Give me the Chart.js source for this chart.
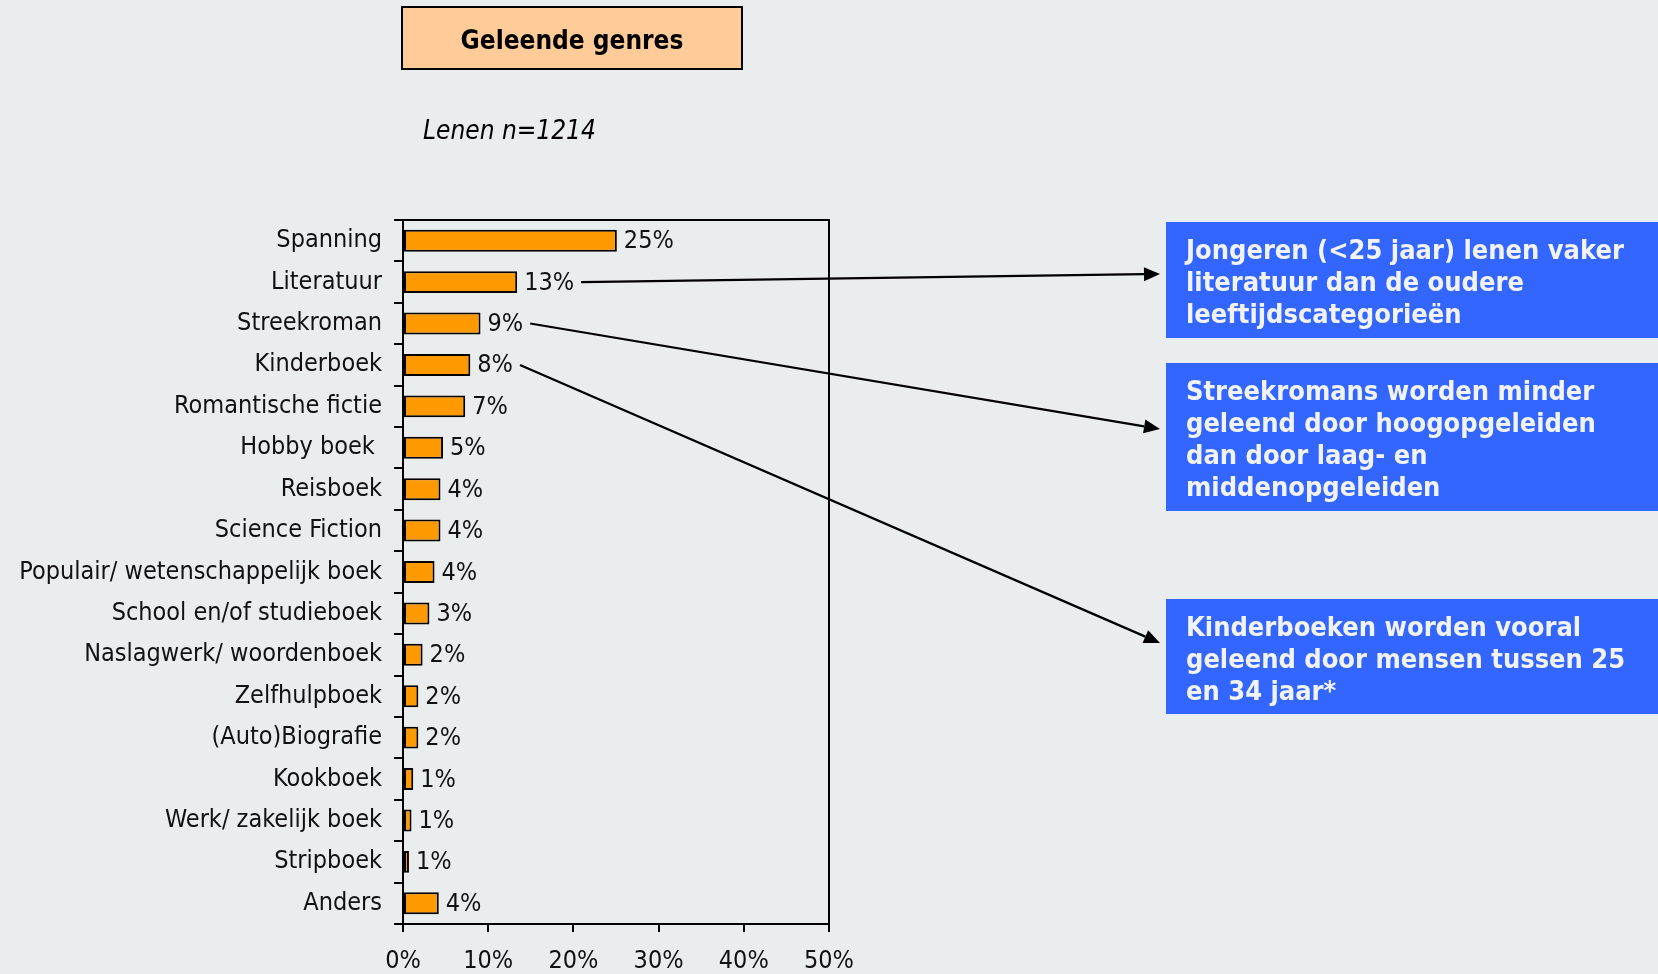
<!DOCTYPE html>
<html>
<head>
<meta charset="utf-8">
<script src="https://cdn.jsdelivr.net/npm/chart.js@4"></script>
<style>
body { margin:0; background:#E9EDEE; }
#wrap { width:1658px; height:974px; }
</style>
</head>
<body>
<div id="wrap"><canvas id="genres" width="1658" height="974"></canvas></div>
<script>
var genre_list = ['Spanning','Literatuur','Streekroman','Kinderboek','Romantische fictie','Hobby boek ','Reisboek','Science Fiction','Populair/ wetenschappelijk boek','School en/of studieboek','Naslagwerk/ woordenboek','Zelfhulpboek','(Auto)Biografie','Kookboek','Werk/ zakelijk boek','Stripboek','Anders'];
var share_list = [25.1, 13.4, 9.1, 7.9, 7.3, 4.7, 4.4, 4.4, 3.7, 3.1, 2.3, 1.8, 1.8, 1.2, 1.0, 0.7, 4.2];
var share_labels = ['25%','13%','9%','8%','7%','5%','4%','4%','4%','3%','2%','2%','2%','1%','1%','1%','4%'];
var x_ticks = [0, 10, 20, 30, 40, 50];

var title_text = 'Geleende genres';
var subtitle_text = 'Lenen n=1214';
var notes = [
	{index:1, top:222, height:116, tipY:274, lines:['Jongeren (<25 jaar) lenen vaker','literatuur dan de oudere','leeftijdscategorieën']},
	{index:2, top:363, height:148, tipY:429, lines:['Streekromans worden minder','geleend door hoogopgeleiden','dan door laag- en','middenopgeleiden']},
	{index:3, top:599, height:115, tipY:643, lines:['Kinderboeken worden vooral','geleend door mensen tussen 25','en 34 jaar*']}
];

var FONT = 'DejaVu Sans Condensed';

var extras = {
	id:'extras',
	beforeDraw:function(chart){
		var ctx = chart.ctx;
		ctx.save();
		ctx.fillStyle = '#E9EDEE';
		ctx.fillRect(0, 0, chart.width, chart.height);
		ctx.restore();
	},
	afterDraw:function(chart){
		var ctx = chart.ctx;
		var area = chart.chartArea;
		ctx.save();
		// frame top + right
		ctx.strokeStyle = '#000';
		ctx.lineWidth = 2;
		ctx.beginPath();
		ctx.moveTo(area.left, area.top);
		ctx.lineTo(area.right, area.top);
		ctx.lineTo(area.right, area.bottom);
		ctx.stroke();

		// value labels
		var bars = chart.getDatasetMeta(0).data;
		ctx.font = '25px "' + FONT + '"';
		ctx.fillStyle = '#111';
		ctx.textBaseline = 'middle';
		ctx.textAlign = 'left';
		var labelEnd = [];
		bars.forEach(function(bar, i){
			ctx.fillText(share_labels[i], bar.x + 7, bar.y + 1);
			labelEnd.push(bar.x + 7 + ctx.measureText(share_labels[i]).width);
		});

		// title box
		ctx.fillStyle = '#FFCC99';
		ctx.fillRect(402, 7, 340, 62);
		ctx.strokeRect(402, 7, 340, 62);
		ctx.fillStyle = '#000';
		ctx.font = 'bold 26px "' + FONT + '"';
		ctx.textAlign = 'center';
		ctx.textBaseline = 'alphabetic';
		ctx.fillText(title_text, 572, 49);

		ctx.font = 'italic 26px "' + FONT + '"';
		ctx.textAlign = 'left';
		ctx.fillText(subtitle_text, 423, 139);

		// notes + arrows
		notes.forEach(function(n){
			ctx.fillStyle = '#3366FF';
			ctx.fillRect(1166, n.top, 492, n.height);
			ctx.fillStyle = '#F2F3F8';
			ctx.font = 'bold 27px "' + FONT + '"';
			n.lines.forEach(function(t, k){
				ctx.fillText(t, 1186, n.top + 37 + k * 32);
			});

			var bar = bars[n.index];
			var x0 = labelEnd[n.index] + 7, y0 = bar.y;
			var x1 = 1160, y1 = n.tipY;
			var ang = Math.atan2(y1 - y0, x1 - x0);
			var hl = 16, hw = 7;
			var bx = x1 - hl * Math.cos(ang), by = y1 - hl * Math.sin(ang);
			ctx.strokeStyle = '#000';
			ctx.lineWidth = 2.2;
			ctx.beginPath();
			ctx.moveTo(x0, y0);
			ctx.lineTo(bx, by);
			ctx.stroke();
			ctx.fillStyle = '#000';
			ctx.beginPath();
			ctx.moveTo(x1, y1);
			ctx.lineTo(bx + hw * Math.sin(ang), by - hw * Math.cos(ang));
			ctx.lineTo(bx - hw * Math.sin(ang), by + hw * Math.cos(ang));
			ctx.closePath();
			ctx.fill();
		});
		ctx.restore();
	}
};

var chart1 = new Chart(document.getElementById('genres'), {
	type:'bar',
	data:{
		labels:genre_list,
		datasets:[{
			data:share_list,
			backgroundColor:'#FF9900',
			borderColor:'#000',
			borderWidth:2,
			borderSkipped:false,
			categoryPercentage:1,
			barPercentage:0.53
		}]
	},
	options:{
		indexAxis:'y',
		responsive:false,
		animation:false,
		layout:{padding:{top:220, right:829, left:0, bottom:0}},
		plugins:{legend:{display:false}, tooltip:{enabled:false}},
		scales:{
			y:{
				afterFit:function(s){ s.width = 403; },
				border:{color:'#000', width:2},
				grid:{drawOnChartArea:false, color:'#000', lineWidth:2, tickLength:9, offset:true},
				ticks:{color:'#111', padding:12, font:{family:FONT, size:25}}
			},
			x:{
				min:0, max:50,
				afterFit:function(s){ s.height = 50; },
				afterBuildTicks:function(s){ s.ticks = x_ticks.map(function(v){ return {value:v}; }); },
				border:{color:'#000', width:2},
				grid:{drawOnChartArea:false, color:'#000', lineWidth:2, tickLength:8},
				ticks:{color:'#111', padding:14, font:{family:FONT, size:25}, callback:function(v){ return v + '%'; }}
			}
		}
	},
	plugins:[extras]
});
</script>
</body>
</html>
